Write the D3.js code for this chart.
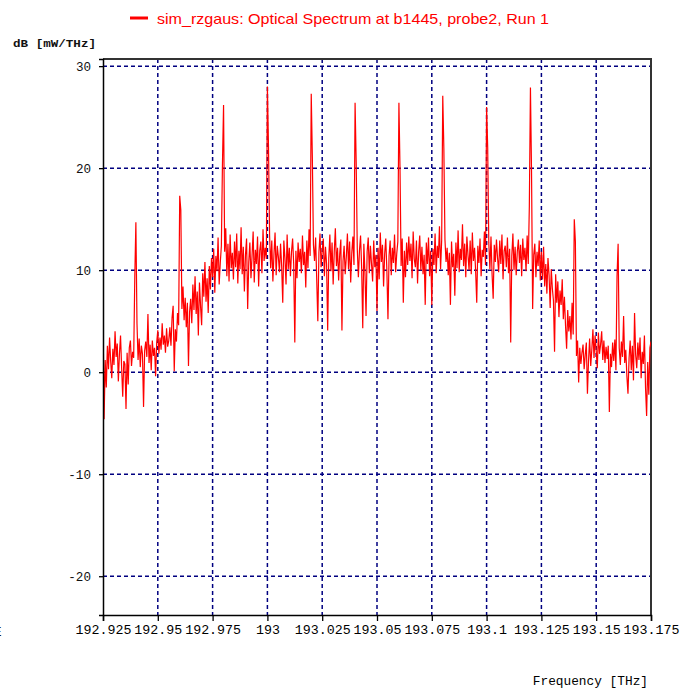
<!DOCTYPE html>
<html><head><meta charset="utf-8">
<script src="https://cdn.jsdelivr.net/npm/d3@7"></script>
<style>body{margin:0;background:#fff}svg{display:block}</style>
</head><body>
<script>
const titleText = "sim_rzgaus: Optical Spectrum at b1445, probe2, Run 1";
const yLabelText = "dB [mW/THz]";
const xLabelText = "Frequency [THz]";
const freqStart = 192.925, freqStep = 0.0005;
const xDomain = [192.925, 193.175];
const yDomain = [-23.8, 30.7];
const xTicks = [192.925,192.95,192.975,193,193.025,193.05,193.075,193.1,193.125,193.15,193.175];
const xTickLabels = ["192.925","192.95","192.975","193","193.025","193.05","193.075","193.1","193.125","193.15","193.175"];
const yTicks = [-20,-10,0,10,20,30];
const yTickLabels = ["-20","-10","0","10","20","30"];
const powerDb = [
6.0,-4.6,1.2,-1.5,2.6,0.3,3.4,1.1,-0.6,2.3,0.7,4.0,1.5,2.8,-0.9,1.8,3.6,0.4,-2.4,1.1,
0.8,-3.6,1.9,-1.2,2.4,3.1,0.6,2.0,1.4,9.3,14.7,4.8,1.2,3.3,0.5,2.6,1.8,-3.4,2.1,3.0,
1.5,5.7,0.9,2.7,0.2,3.1,1.6,2.4,-0.4,2.9,4.1,1.8,3.4,2.2,4.8,2.7,3.6,1.9,4.3,2.5,
3.1,4.4,2.6,5.3,6.5,0.1,4.2,3.0,5.8,4.6,17.3,15.9,6.2,8.4,5.1,7.3,4.4,6.8,0.6,5.9,
7.2,4.8,8.6,6.1,9.4,5.7,7.9,3.6,8.8,6.5,4.6,9.7,7.4,10.8,6.9,9.2,5.8,10.4,8.1,11.2,
9.3,12.1,7.8,11.4,9.9,13.2,8.6,10.7,12.4,20.5,26.2,11.8,14.1,9.4,12.6,8.9,13.5,10.2,11.7,9.1,
12.8,10.3,13.6,8.7,11.9,10.1,14.2,9.6,12.3,7.9,11.5,13.1,6.2,10.8,12.7,9.2,11.4,13.8,8.8,12.0,
10.6,13.3,8.4,11.9,12.8,9.7,14.0,10.9,12.2,11.1,28.0,22.1,13.4,10.2,12.9,8.9,11.6,13.7,9.5,12.4,
11.3,9.8,12.6,10.4,6.8,12.9,11.2,8.6,13.5,10.1,12.2,9.4,11.8,13.1,10.6,2.9,11.9,9.2,12.7,10.8,
12.1,9.7,13.4,10.5,11.8,8.3,12.9,10.2,14.0,11.4,27.3,21.1,12.5,10.9,13.2,9.1,5.0,11.7,13.6,10.3,
11.9,13.1,9.4,12.3,10.6,4.1,11.2,13.5,9.9,12.7,8.6,11.8,14.1,10.4,12.2,9.0,11.6,13.0,4.1,10.9,
12.4,9.6,11.3,13.6,10.1,12.8,8.8,11.7,13.3,10.5,26.4,20.6,12.1,9.3,11.9,13.4,10.2,4.3,12.6,9.8,
5.5,11.8,13.2,9.7,12.4,10.6,8.9,12.9,10.3,11.5,6.0,12.2,9.1,13.7,10.8,12.5,8.4,11.6,13.1,10.0,
5.2,11.4,12.9,9.5,12.2,10.7,13.5,9.8,11.6,12.8,26.4,19.9,10.4,13.1,6.8,11.9,9.3,12.7,10.5,13.3,
10.9,12.6,9.2,13.8,11.1,10.3,12.9,8.7,11.8,13.4,10.0,12.3,9.6,11.5,6.6,12.7,10.6,13.2,9.4,11.9,
6.6,12.1,10.5,13.6,9.7,12.4,11.2,14.3,10.1,12.9,27.1,21.9,13.0,10.8,12.2,9.5,11.7,6.6,12.8,10.3,
11.6,7.5,12.7,10.2,13.9,9.8,12.1,11.0,14.5,10.4,12.6,9.3,13.3,11.5,10.0,12.9,9.6,13.7,10.9,12.2,
9.9,6.8,12.4,10.7,13.1,9.4,12.0,11.3,13.8,10.5,26.0,22.0,12.7,10.1,13.3,9.6,7.2,12.5,10.8,13.0,
11.2,9.8,12.9,10.6,13.5,9.1,11.9,12.4,10.3,13.2,9.7,12.1,2.9,11.4,13.6,10.0,12.3,9.5,11.8,13.0,
10.7,12.5,9.4,13.1,11.0,12.2,9.9,13.4,10.6,16.3,27.9,19.6,6.2,11.5,12.6,9.3,11.8,10.4,12.9,9.0,
11.8,9.1,12.3,8.4,10.6,7.7,11.2,9.5,6.3,10.1,8.2,7.0,2.0,9.6,6.8,8.9,5.4,8.0,6.6,9.1,
5.2,7.4,4.6,2.3,6.1,4.0,5.5,3.2,6.8,3.7,15.0,12.8,1.6,3.1,-1.0,2.4,0.8,1.9,2.7,0.3,
1.7,2.9,-2.1,1.1,3.3,0.6,2.2,4.2,1.4,3.6,2.1,0.4,3.9,1.8,2.7,4.0,1.2,3.1,0.9,2.5,
1.3,2.6,-3.9,1.8,0.5,2.9,1.1,3.2,0.2,9.4,12.6,2.4,0.7,3.0,1.5,5.5,0.9,2.2,-0.4,-2.1,
1.4,3.1,0.2,2.6,-0.8,5.8,1.7,0.4,2.9,1.2,3.4,-0.6,2.0,0.8,3.6,-1.5,-4.3,1.0,-2.2,2.4,
3.0
];

const W = 696, H = 694;
const m = {left: 103, top: 59, right: 45, bottom: 79};
const pw = W - m.left - m.right, ph = H - m.top - m.bottom;
const mono = "'Liberation Mono','DejaVu Sans Mono',monospace";

const svg = d3.select("body").append("svg").attr("width", W).attr("height", H);
const x = d3.scaleLinear().domain(xDomain).range([m.left, m.left + pw]);
const y = d3.scaleLinear().domain(yDomain).range([m.top + ph, m.top]);

// legend/title
svg.append("line").attr("x1",130).attr("x2",148).attr("y1",18).attr("y2",18)
  .attr("stroke","#ff0000").attr("stroke-width",3);
svg.append("text").attr("x",157).attr("y",24).text(titleText)
  .attr("fill","#ff0000").attr("font-family","'Liberation Sans',Arial,sans-serif")
  .attr("font-size",15).attr("textLength",392).attr("lengthAdjust","spacingAndGlyphs");

svg.append("text").attr("x",13).attr("y",47).text(yLabelText)
  .attr("fill","#111").attr("font-family",mono).attr("font-size",11).attr("font-weight","bold")
  .attr("textLength",83).attr("lengthAdjust","spacingAndGlyphs");

// grid
const grid = svg.append("g").attr("stroke","#000080").attr("stroke-width",1.5).attr("stroke-dasharray","4,3");
grid.selectAll("line.v").data(xTicks.slice(1, -1)).join("line").attr("class","v")
  .attr("x1",d=>x(d)).attr("x2",d=>x(d)).attr("y1",m.top).attr("y2",m.top+ph);
grid.selectAll("line.h").data(yTicks).join("line").attr("class","h")
  .attr("x1",m.left).attr("x2",m.left+pw).attr("y1",d=>y(d)).attr("y2",d=>y(d));

// frame top & right
svg.append("path").attr("d",`M${m.left},${m.top}H${m.left+pw}V${m.top+ph}`)
  .attr("fill","none").attr("stroke","#333").attr("stroke-width",2);

// data line
svg.append("clipPath").attr("id","clip").append("rect")
  .attr("x",m.left).attr("y",m.top).attr("width",pw).attr("height",ph);
const line = d3.line().x((d,i)=>x(freqStart + i*freqStep)).y(d=>y(d));
svg.append("path").datum(powerDb).attr("d",line).attr("clip-path","url(#clip)")
  .attr("fill","none").attr("stroke","#ff0000").attr("stroke-width",1.2).attr("stroke-linejoin","miter");

// axes
const xAxis = d3.axisBottom(x).tickValues(xTicks).tickFormat((d,i)=>xTickLabels[i]).tickSize(6).tickPadding(4);
const gx = svg.append("g").attr("transform",`translate(0,${m.top+ph})`).call(xAxis);
gx.select(".domain").attr("stroke","#000").attr("stroke-width",1.5);
gx.selectAll(".tick line").attr("stroke","#000").attr("stroke-width",1.3);
gx.selectAll("text").attr("font-family",mono).attr("font-size",13.3).attr("fill","#000");

const yAxis = d3.axisLeft(y).tickValues(yTicks).tickFormat((d,i)=>yTickLabels[i]).tickSize(4).tickPadding(8);
const gy = svg.append("g").attr("transform",`translate(${m.left},0)`).call(yAxis);
gy.select(".domain").attr("stroke","#000").attr("stroke-width",1.5);
gy.selectAll(".tick line").attr("stroke","#000").attr("stroke-width",1.3);
gy.selectAll("text").attr("font-family",mono).attr("font-size",12.6).attr("fill","#111");

svg.append("text").attr("x",648).attr("y",685).attr("text-anchor","end").text(xLabelText)
  .attr("fill","#000").attr("font-family",mono).attr("font-size",12.8);

svg.append("text").attr("x",-6).attr("y",636).text("E")
  .attr("fill","#111").attr("font-family",mono).attr("font-size",12.6);
</script>
</body></html>
